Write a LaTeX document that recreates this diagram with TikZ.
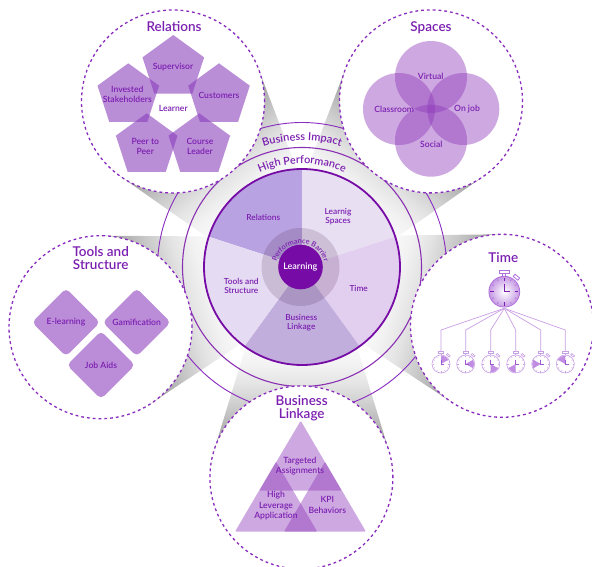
\documentclass[tikz,border=0pt]{standalone}
\usepackage{fontspec}
\setmainfont{Lato}[BoldFont={Lato Semibold}]
\usetikzlibrary{shapes.geometric,decorations.text,calc}
\definecolor{ink}{HTML}{7B1FB0}
\definecolor{deep}{HTML}{760CA5}
\definecolor{dashc}{HTML}{8A2BC0}
\definecolor{pentc}{HTML}{893CBB}
\definecolor{vennc}{HTML}{8E39BA}
\definecolor{dia}{HTML}{BB8CD8}
\definecolor{wlight}{HTML}{C99FE6}
\definecolor{wmid}{HTML}{B070DC}
\definecolor{wRel}{HTML}{B9A2E1}
\definecolor{wSpa}{HTML}{E8DFF3}
\definecolor{wTim}{HTML}{E2CEEE}
\definecolor{wBus}{HTML}{C2AEDD}
\definecolor{wToo}{HTML}{E5DBF2}
\pgfdeclarehorizontalshading{coneshade}{100bp}{
 color(0bp)=(black!42); color(25bp)=(black!42); color(32bp)=(black!22);
 color(36.4bp)=(black!11); color(40bp)=(black!5); color(43.5bp)=(black!2);
 color(45.5bp)=(white); color(100bp)=(white)}
\tikzset{
 x=1pt,y=1pt,
 bigcircle/.style={draw=dashc,fill=white,line width=1.3pt,dash pattern=on 2.8pt off 3pt},
 lbl/.style={text=ink,inner sep=0,align=center,font=\fontsize{8.6}{10.4}\selectfont\bfseries},
 whl/.style={text=ink,inner sep=0,align=center,font=\fontsize{8.3}{8.7}\selectfont\bfseries},
 ttl/.style={text=ink,inner sep=0,align=center,font=\fontsize{13.5}{12.8}\selectfont\bfseries},
 penta/.style={regular polygon,regular polygon sides=5,minimum size=64.8pt,inner sep=0,fill=pentc,fill opacity=.58},
 venn/.style={fill=vennc,fill opacity=.43},
 tri/.style={fill=vennc,fill opacity=.43,rounded corners=1.2pt},
 dmd/.style={fill=dia,rounded corners=4.5pt},
 wline/.style={draw=wlight,line width=.7pt},
}
\newcommand\conepart[3]{%
 \begin{scope}[transform canvas={shift={(#1,#2)},rotate=#3}]
  \shade[shading=coneshade] (26.75,87.5) -- (313,0) -- (26.75,-87.5) -- cycle;
 \end{scope}}
\newcommand\tinywatch[4]{% name, x, y, start angle clockwise from 12
 \coordinate (#1) at (#2,#3);
 \coordinate (#1top) at ($(#1)+(0,12.4)$);
 \fill[white] (#1) circle (9);
 \fill[wmid!80] (#1) -- ++(90-#4:8.5) arc[start angle=90-#4,end angle=30-#4,radius=8.5] -- cycle;
 \draw[wlight,line width=.6pt] (#1) circle (9);
 \draw[wlight,line width=.6pt] ($(#1)+(-2.6,10.8)$) rectangle ($(#1)+(2.6,12.4)$);
 \draw[wlight,line width=.6pt] ($(#1)+(0,9)$) -- ($(#1)+(0,10.8)$);
 \draw[wlight,line width=.6pt,rotate around={-40:(#1)}] ($(#1)+(-1.8,10.6)$) rectangle ($(#1)+(1.8,12.2)$);
 \foreach \a in {0,30,...,330}{\draw[wlight,line width=.5pt] ($(#1)+(\a:7.2)$) -- ($(#1)+(\a:8.5)$);}
 \draw[wmid!70!ink,line width=.6pt] ($(#1)+(0,4.5)$) -- (#1) -- ($(#1)+(3.2,0)$);
}
\begin{document}
\begin{tikzpicture}
\useasboundingbox (0,0) rectangle (592,-567);
\begin{scope}
\clip (0,0) rectangle (592,-567);
\coordinate (C) at (302,-267);
% cones
\conepart{173}{-101.5}{-52.1}
\conepart{431}{-101.4}{-127.9}
\conepart{502}{-325.8}{163.6}
\conepart{301.4}{-477.5}{90}
\conepart{100.5}{-327.2}{16.6}
% rings
\draw[dashc,line width=.9pt] (C) circle (144.5);
\draw[deep!85,line width=1.1pt] (C) circle (119.5);
% big circles
\draw[bigcircle] (173,-101.5) circle (91.5);
\draw[bigcircle] (431,-101.4) circle (91.5);
\draw[bigcircle] (502,-325.8) circle (91.5);
\draw[bigcircle] (301.4,-477.5) circle (91.5);
\draw[bigcircle] (100.5,-327.2) circle (91.5);
% wheel
\fill[wRel] (C) -- ++(90:98) arc[start angle=90,end angle=162,radius=98] -- cycle;
\fill[wSpa] (C) -- ++(90:98) arc[start angle=90,end angle=18,radius=98] -- cycle;
\fill[wTim] (C) -- ++(18:98) arc[start angle=18,end angle=-54,radius=98] -- cycle;
\fill[wBus] (C) -- ++(-54:98) arc[start angle=-54,end angle=-126,radius=98] -- cycle;
\fill[wToo] (C) -- ++(-126:98) arc[start angle=-126,end angle=-198,radius=98] -- cycle;
\draw[deep,line width=1.8pt] (C) circle (98);
\fill[fill=black!70!violet,fill opacity=.14] (300.5,-267) circle (39);
\fill[deep] (300.5,-267) circle (22.3);
% ring texts
\path[decorate,decoration={text along path,text align=center,text={|\fontsize{11}{11}\selectfont\bfseries\color{ink}|Business Impact}}]
  (302,-267) ++(155:126.5) arc[start angle=155,end angle=25,radius=126.5];
\path[decorate,decoration={text along path,text align=center,text={|\fontsize{10.8}{11}\selectfont\bfseries\color{ink}|High Performance}}]
  (302,-267) ++(150:103.5) arc[start angle=150,end angle=30,radius=103.5];
\path[decorate,decoration={text along path,text align=center,text={|\fontsize{7.2}{7.2}\selectfont\bfseries\color{ink}|Performance Barrier}}]
  (300.5,-268) ++(185:24.5) arc[start angle=185,end angle=-5,radius=24.5];
% wheel labels
\node[whl] (tRel) at (263.3,-217.3) {Relations};
\node[whl] (tSpa) at (338,-216.4) {Learnig\\Spaces};
\node[whl] (tTim) at (358.7,-288.7) {Time};
\node[whl] (tToo) at (241.3,-285.7) {Tools and\\Structure};
\node[whl] (tBus) at (301.3,-322.7) {Business\\Linkage};
\node[inner sep=0,text=white,font=\fontsize{9}{9}\selectfont\bfseries] (tLea) at (300.3,-266.7) {Learning};
% Relations
\node[ttl] (tRelT) at (174,-26.7) {Relations};
\node[penta] (p1) at (173.3,-67.4) {};
\node[penta] (p2) at (128.3,-95.7) {};
\node[penta] (p3) at (219,-95.7) {};
\node[penta] (p4) at (146.7,-145.7) {};
\node[penta] (p5) at (199.3,-145.7) {};
\node[lbl] (l1) at (173,-67) {Supervisor};
\node[lbl] (l2) at (127.3,-94.6) {Invested\\Stakeholders};
\node[lbl] (l3) at (219,-95.3) {Customers};
\node[lbl] (l4) at (145.3,-146.5) {Peer to\\Peer};
\node[lbl] (l5) at (200,-146.5) {Course\\Leader};
\node[lbl] (l6) at (173.3,-108.7) {Learner};
% Spaces
\node[ttl] (tSpaT) at (431,-27.3) {Spaces};
\fill[venn] (431,-77) circle (36);
\fill[venn] (399,-109) circle (36);
\fill[venn] (463.3,-109) circle (36);
\fill[venn] (431,-140.7) circle (36);
\node[lbl] (v1) at (430.7,-76) {Virtual};
\node[lbl] (v2) at (394.3,-109.3) {Classroom};
\node[lbl] (v3) at (467,-109.3) {On job};
\node[lbl] (v4) at (431.3,-144.3) {Social};
% Tools
\node[ttl] (tTooT) at (100.7,-258.3) {Tools and\\Structure};
\fill[dmd] (66,-288.3) -- (100,-322.3) -- (66,-356.3) -- (32,-322.3) -- cycle;
\fill[dmd] (136.7,-288.3) -- (170.7,-322.3) -- (136.7,-356.3) -- (102.7,-322.3) -- cycle;
\fill[dmd] (101,-331) -- (135,-365) -- (101,-399) -- (67,-365) -- cycle;
\node[lbl] (d1) at (66,-322.3) {E-learning};
\node[lbl] (d2) at (136.7,-322.3) {Gamification};
\node[lbl] (d3) at (101,-365) {Job Aids};
% Business
\node[ttl] (tBusT) at (301.7,-408.3) {Business\\Linkage};
\fill[tri] (300.7,-420.7) -- (341.7,-490.7) -- (259.3,-490.7) -- cycle;
\fill[tri] (276,-461.7) -- (317.3,-531.7) -- (235,-531.7) -- cycle;
\fill[tri] (325,-461.7) -- (366,-531.7) -- (284,-531.7) -- cycle;
\node[lbl] (b1) at (300,-466) {Targeted\\Assignments};
\node[lbl] (b2) at (276,-505.8) {High\\Leverage\\Application};
\node[lbl] (b3) at (327.3,-504.9) {KPI\\Behaviors};
% Time
\node[ttl] (tTimT) at (503.3,-257.3) {Time};
\coordinate (W) at (504.3,-291.7);
\coordinate (hub) at (504.3,-308.3);
\tinywatch{w1}{441}{-364}{0}
\tinywatch{w2}{465.7}{-364}{60}
\tinywatch{w3}{490.7}{-364}{120}
\tinywatch{w4}{515.7}{-364}{180}
\tinywatch{w5}{540.7}{-364}{240}
\tinywatch{w6}{565.3}{-364}{300}
\foreach \i/\x in {1/441,2/465.7,3/490.7,4/515.7,5/540.7,6/565.3}{
 \coordinate (bend\i) at (\x,-330);
 \draw[wline] (hub) -- (bend\i) -- (w\i top);
}
\draw[wmid,line width=.8pt,fill=white] ($(W)+(-5,18)$) rectangle ($(W)+(5,21)$);
\draw[wmid,line width=.8pt] ($(W)+(-1.5,15.4)$) -- ($(W)+(-1.5,18)$) ($(W)+(1.5,15.4)$) -- ($(W)+(1.5,18)$);
\draw[wmid,line width=.8pt,fill=white,rotate around={-40:(W)}] ($(W)+(-3,17.5)$) rectangle ($(W)+(3,20.3)$);
\shade[inner color=white,outer color=wlight!95!ink,draw=wmid,line width=.8pt] (W) circle (15.4);
\foreach \a in {0,90,180,270}{\draw[ink,line width=.9pt] ($(W)+(\a:10.5)$) -- ($(W)+(\a:14)$);}
\foreach \a in {30,60,120,150,210,240,300,330}{\draw[wmid,line width=.7pt] ($(W)+(\a:12)$) -- ($(W)+(\a:14)$);}
\draw[ink,line width=1pt] ($(W)+(0,7.5)$) -- (W) -- ($(W)+(5.5,0)$);
\end{scope}
\end{tikzpicture}
\end{document}
